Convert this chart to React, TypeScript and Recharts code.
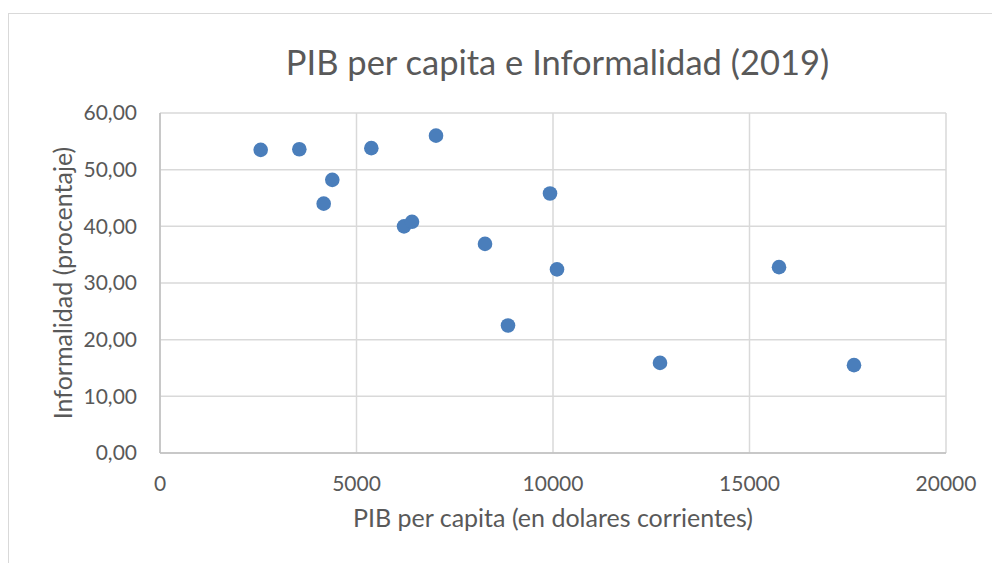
import React from 'react';
import {
  CartesianGrid,
  Label,
  Scatter,
  ScatterChart,
  XAxis,
  YAxis,
} from 'recharts';

// PIB per capita (USD) vs informalidad (%) - 2019
const pibPerCapita = [2562, 3545, 5377, 7023, 4384, 4165, 6209, 6412, 9924, 8270, 10102, 8855, 12723, 15751, 17659];
const informalidad = [53.5, 53.6, 53.8, 56.0, 48.2, 44.0, 40.0, 40.8, 45.8, 36.9, 32.4, 22.5, 15.9, 32.8, 15.5];

const xTicks = [0, 5000, 10000, 15000, 20000];
const yTicks = [0, 10, 20, 30, 40, 50, 60];

const data = pibPerCapita.map((x, i) => ({ x, y: informalidad[i] }));

const FONT = 'Lato, "Open Sans", sans-serif';
const TEXT = '#595959';
const DOT = '#4a7ebb';

const fmtY = (v: number) => v.toFixed(2).replace('.', ',');

export default function App() {
  return (
    <div
      style={{
        position: 'absolute',
        left: 0,
        top: 0,
        width: 992,
        height: 563,
        overflow: 'hidden',
        background: '#fff',
        fontFamily: FONT,
      }}
    >
      <div
        style={{
          position: 'absolute',
          left: 8,
          top: 13,
          width: 1100,
          height: 700,
          border: '1.5px solid #d9d9d9',
        }}
      />
      <div
        style={{
          position: 'absolute',
          left: 0,
          width: 1115,
          top: 41,
          textAlign: 'center',
          fontSize: 34.5,
          color: TEXT,
        }}
      >
        PIB per capita e Informalidad (2019)
      </div>
      <div style={{ position: 'absolute', left: 0, top: 0 }}>
        <ScatterChart width={992} height={563} margin={{ top: 113, right: 46, bottom: 50, left: 40 }}>
          <CartesianGrid stroke="#d9d9d9" strokeWidth={1.5} />
          <XAxis
            type="number"
            dataKey="x"
            domain={[0, 20000]}
            ticks={xTicks}
            height={60}
            tickLine={false}
            tickSize={0}
            tickMargin={23}
            axisLine={{ stroke: '#bfbfbf', strokeWidth: 1.5 }}
            tick={{ fill: TEXT, fontSize: 21, fontFamily: FONT }}
          >
            <Label
              content={({ viewBox }: any) => (
                <text
                  x={viewBox.x + viewBox.width / 2}
                  y={viewBox.y + 74}
                  textAnchor="middle"
                  fill={TEXT}
                  fontSize={25}
                  fontFamily={FONT}
                >
                  PIB per capita (en dolares corrientes)
                </text>
              )}
            />
          </XAxis>
          <YAxis
            type="number"
            dataKey="y"
            domain={[0, 60]}
            ticks={yTicks}
            width={120}
            tickLine={false}
            tickSize={0}
            tickMargin={23}
            tickFormatter={fmtY}
            axisLine={{ stroke: '#bfbfbf', strokeWidth: 1.5 }}
            tick={{ fill: TEXT, fontSize: 21, fontFamily: FONT }}
          >
            <Label
              content={({ viewBox }: any) => {
                const cx = 62;
                const cy = viewBox.y + viewBox.height / 2;
                return (
                  <text
                    x={cx}
                    y={cy}
                    transform={`rotate(-90, ${cx}, ${cy})`}
                    textAnchor="middle"
                    dominantBaseline="central"
                    fill={TEXT}
                    fontSize={25}
                    fontFamily={FONT}
                  >
                    Informalidad (procentaje)
                  </text>
                );
              }}
            />
          </YAxis>
          <Scatter
            data={data}
            isAnimationActive={false}
            shape={(p: any) => <circle cx={p.cx} cy={p.cy} r={7.3} fill={DOT} />}
          />
        </ScatterChart>
      </div>
    </div>
  );
}
